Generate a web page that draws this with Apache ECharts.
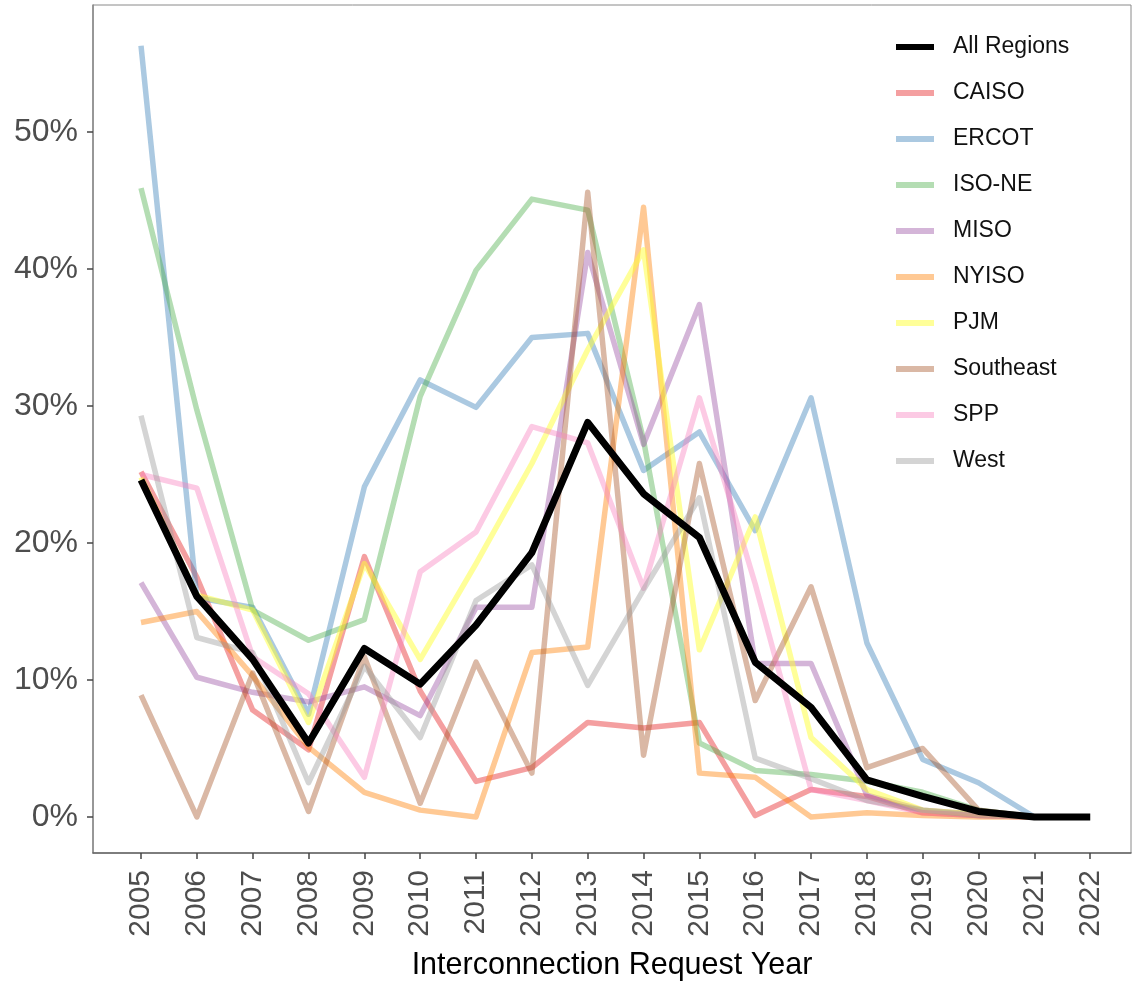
<!DOCTYPE html>
<html>
<head>
<meta charset="utf-8">
<title>Interconnection Request Year</title>
<script src="https://cdn.jsdelivr.net/npm/echarts@6/dist/echarts.min.js"></script>
<style>
  html, body { margin: 0; padding: 0; background: #fff; }
  #chart { width: 1132px; height: 983px; }
</style>
</head>
<body>
<div id="chart"></div>
<script>
// Interconnection request years
const years = [2005, 2006, 2007, 2008, 2009, 2010, 2011, 2012, 2013, 2014, 2015, 2016, 2017, 2018, 2019, 2020, 2021, 2022];

// Share by region, in percent
const allRegions = [24.6, 16.1, 11.5, 5.4, 12.3, 9.7, 14.0, 19.3, 28.8, 23.6, 20.4, 11.3, 8.0, 2.7, 1.5, 0.4, 0, 0];
const caiso      = [25.2, 17.5, 7.8, 4.9, 19.0, 9.2, 2.6, 3.6, 6.9, 6.5, 6.9, 0.1, 2.0, 1.5, 0.3, 0.1, 0, null];
const ercot      = [56.3, 16.0, 15.3, 7.5, 24.1, 31.9, 29.9, 35.0, 35.3, 25.3, 28.1, 20.9, 30.6, 12.7, 4.2, 2.5, 0, null];
const isoNe      = [45.9, 29.7, 15.1, 12.9, 14.4, 30.7, 39.9, 45.1, 44.3, 27.5, 5.4, 3.4, 3.1, 2.6, 1.8, 0.5, 0, null];
const miso       = [17.1, 10.2, 9.1, 8.4, 9.5, 7.4, 15.3, 15.3, 41.2, 27.2, 37.4, 11.2, 11.2, 1.6, 0.5, 0.2, 0, null];
const nyiso      = [14.2, 15.0, 10.3, 5.1, 1.8, 0.5, 0, 12.0, 12.4, 44.5, 3.2, 2.9, 0, 0.3, 0.1, 0, 0, null];
const pjm        = [24.8, 16.2, 15.1, 6.9, 18.5, 11.5, 18.5, 25.8, 34.1, 41.4, 12.2, 21.9, 5.8, 2.0, 0.5, 0.2, 0, null];
const southeast  = [8.9, 0, 10.5, 0.4, 11.7, 1.0, 11.3, 3.2, 45.6, 4.5, 25.8, 8.5, 16.8, 3.6, 5.0, 0.5, 0, null];
const spp        = [25.0, 24.0, 11.7, 9.0, 2.9, 17.9, 20.8, 28.5, 27.3, 16.7, 30.6, 17.0, 2.0, 1.2, 0.3, 0.1, 0, null];
const west       = [29.3, 13.1, 12.0, 2.5, 11.0, 5.8, 15.8, 18.4, 9.6, 16.6, 23.3, 4.3, 2.8, 1.2, 0.5, 0.1, 0, null];

// Y tick labels (percent)
const yTicks = [0, 10, 20, 30, 40, 50];

const regions = [
  { name: 'CAISO',     values: caiso,     color: 'rgba(228,26,28,0.42)' },
  { name: 'ERCOT',     values: ercot,     color: 'rgba(55,126,184,0.42)' },
  { name: 'ISO-NE',    values: isoNe,     color: 'rgba(77,175,74,0.42)' },
  { name: 'MISO',      values: miso,      color: 'rgba(152,78,163,0.42)' },
  { name: 'NYISO',     values: nyiso,     color: 'rgba(255,127,0,0.42)' },
  { name: 'PJM',       values: pjm,       color: 'rgba(255,255,51,0.5)' },
  { name: 'Southeast', values: southeast, color: 'rgba(166,86,40,0.42)' },
  { name: 'SPP',       values: spp,       color: 'rgba(247,129,191,0.42)' },
  { name: 'West',      values: west,      color: 'rgba(153,153,153,0.42)' }
];

const pairs = vals => years.map((y, i) => [y, vals[i]]);

const FONT = '"Liberation Sans", Arial, sans-serif';

const series = regions.map(r => ({
  name: r.name,
  type: 'line',
  data: pairs(r.values),
  showSymbol: false,
  symbol: 'none',
  color: r.color,
  lineStyle: { width: 5.5, color: r.color, join: 'round' },
  emphasis: { disabled: true }
}));
series.push({
  name: 'All Regions',
  type: 'line',
  data: pairs(allRegions),
  showSymbol: false,
  symbol: 'none',
  color: '#000',
  lineStyle: { width: 7, color: '#000', join: 'round' },
  emphasis: { disabled: true },
  z: 5
});

const chart = echarts.init(document.getElementById('chart'), null, { renderer: 'canvas' });
chart.setOption({
  animation: false,
  backgroundColor: '#fff',
  grid: {
    left: 93, right: 1, top: 5, bottom: 130,
    show: true, borderColor: '#8a8a8a', borderWidth: 1,
    containLabel: false, outerBoundsMode: 'none'
  },
  legend: {
    orient: 'vertical',
    left: 896, top: 35,
    padding: 0,
    itemWidth: 38, itemHeight: 6, itemGap: 22,
    icon: 'rect',
    data: ['All Regions'].concat(regions.map(r => r.name)),
    textStyle: { fontSize: 23, fontFamily: FONT, color: '#111', lineHeight: 24, padding: [0, 0, 0, 14] }
  },
  xAxis: {
    type: 'value',
    min: 2004.14, max: 2022.73,
    name: 'Interconnection Request Year',
    nameLocation: 'middle',
    nameGap: 97,
    nameTextStyle: { fontSize: 30.5, fontFamily: FONT, color: '#000' },
    splitLine: { show: false },
    axisLine: { show: true, onZero: false, lineStyle: { color: '#666', width: 1.5 } },
    axisTick: { show: true, length: 6, customValues: years, lineStyle: { color: '#444', width: 1.5 } },
    axisLabel: {
      customValues: years, rotate: 90, margin: 17,
      fontSize: 30, fontFamily: FONT, color: '#4d4d4d',
      formatter: v => String(v)
    }
  },
  yAxis: {
    type: 'value',
    min: -2.63, max: 59.27,
    splitLine: { show: false },
    axisLine: { show: true, onZero: false, lineStyle: { color: '#888', width: 1.5 } },
    axisTick: { show: true, length: 6, customValues: yTicks, lineStyle: { color: '#444', width: 1.5 } },
    axisLabel: {
      customValues: yTicks, margin: 15,
      fontSize: 32, fontFamily: FONT, color: '#4d4d4d',
      formatter: v => v + '%'
    }
  },
  series: series
});
</script>
</body>
</html>
